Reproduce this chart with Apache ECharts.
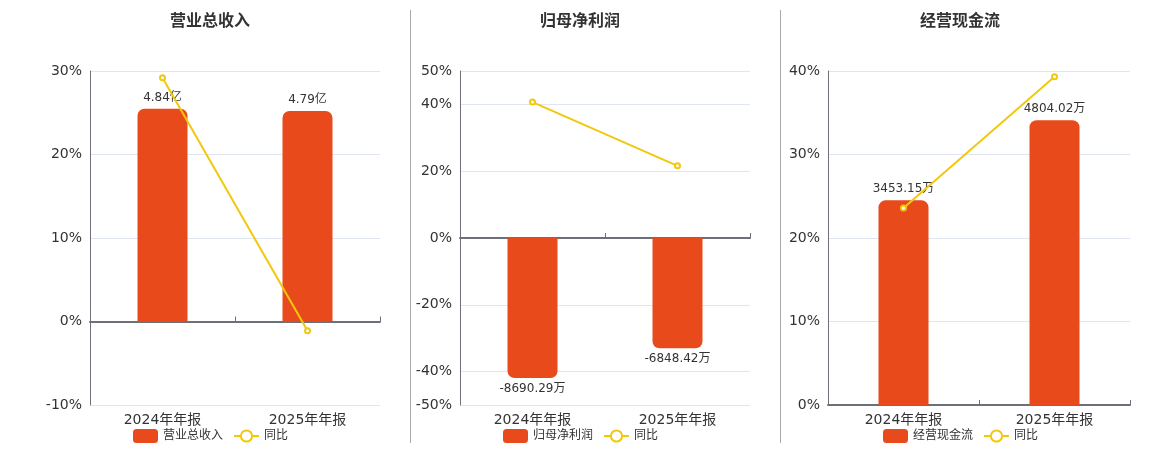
<!DOCTYPE html>
<html>
<head>
<meta charset="utf-8">
<script src="https://cdn.jsdelivr.net/npm/echarts@6/dist/echarts.min.js"></script>
<style>
  html, body { margin: 0; padding: 0; background: #fff; }
  #main { width: 1160px; height: 450px; }
</style>
</head>
<body>
<div id="main"></div>
<script>
// 数据
var categories = ['2024年年报', '2025年年报'];
var titles = ['营业总收入', '归母净利润', '经营现金流'];
var units = ['亿', '万', '万'];
var revenue = [4.84, 4.79];          // 亿
var netProfit = [-8690.29, -6848.42]; // 万
var cashFlow = [3453.15, 4804.02];    // 万
var revenueYoy = [29.2, -1.1];
var netProfitYoy = [40.7, 21.6];
var cashFlowYoy = [23.6, 39.3];
// 左轴范围（百分比）
var pctMin = [-10, -50, 0];
var pctMax = [30, 50, 40];
// 柱子隐藏轴：每 1% 对应多少数值
var perPct = [0.19, 207.4, 140.9];

var barValues = [revenue, netProfit, cashFlow];
var yoyValues = [revenueYoy, netProfitYoy, cashFlowYoy];

var FONT = '"DejaVu Sans", "Noto Sans CJK SC", sans-serif';
var BAR_COLOR = '#E84A1B';
var LINE_COLOR = '#F2C80C';

var grids = [
    { left: 90, top: 71, width: 290, height: 334 },
    { left: 460, top: 71, width: 290, height: 334 },
    { left: 828, top: 71, width: 302, height: 334 }
];
var titleLeft = [170, 540, 920];
var legendLeft = [133, 503, 883];

var option = {
    animation: false,
    textStyle: { fontFamily: FONT },
    title: [], legend: [], grid: grids,
    xAxis: [], yAxis: [], series: [],
    graphic: [
        { type: 'line', shape: { x1: 410.5, y1: 10, x2: 410.5, y2: 443 }, style: { stroke: '#aaa', lineWidth: 1 } },
        { type: 'line', shape: { x1: 780.5, y1: 10, x2: 780.5, y2: 443 }, style: { stroke: '#aaa', lineWidth: 1 } }
    ]
};

for (var i = 0; i < 3; i++) {
    var unit = units[i];
    var negative = barValues[i][0] < 0;

    option.title.push({
        text: titles[i], left: titleLeft[i], top: 14, padding: 0,
        textStyle: { fontSize: 16, fontWeight: 'bold', color: '#333', fontFamily: FONT }
    });
    option.legend.push({
        data: [titles[i], '同比'], left: legendLeft[i], top: 424, padding: [5, 0],
        itemWidth: 25, itemHeight: 14, itemGap: 10,
        textStyle: { fontSize: 12, color: '#333', fontFamily: FONT }
    });
    // 坐标轴标签（底部）
    option.xAxis.push({
        type: 'category', gridIndex: i, data: categories,
        axisLine: { show: false, onZero: false },
        axisTick: { show: false },
        axisLabel: { fontSize: 14, color: '#333', margin: 8, fontFamily: FONT }
    });
    // 零线
    option.xAxis.push({
        type: 'category', gridIndex: i, data: categories,
        axisLine: { show: true, onZero: true, onZeroAxisIndex: i * 2, lineStyle: { color: '#6E7079', width: 2 } },
        axisTick: { show: true, lineStyle: { color: '#6E7079' } },
        axisLabel: { show: false }
    });
    option.yAxis.push({
        type: 'value', gridIndex: i, min: pctMin[i], max: pctMax[i],
        axisLine: { show: true, lineStyle: { color: '#6E7079' } },
        axisTick: { show: false },
        splitLine: { lineStyle: { color: '#E0E6F1' } },
        axisLabel: { fontSize: 14, color: '#333', fontFamily: FONT, formatter: '{value}%' }
    });
    option.yAxis.push({
        type: 'value', gridIndex: i, show: false,
        min: pctMin[i] * perPct[i], max: pctMax[i] * perPct[i],
        splitLine: { show: false }
    });

    option.series.push({
        name: titles[i], type: 'bar', xAxisIndex: i * 2, yAxisIndex: i * 2 + 1,
        data: barValues[i], barWidth: 50,
        itemStyle: {
            color: BAR_COLOR,
            borderRadius: negative ? [0, 0, 7, 7] : [7, 7, 0, 0]
        },
        label: {
            show: true, position: negative ? 'bottom' : 'top',
            color: '#333', fontSize: 12, fontFamily: FONT,
            formatter: (function (u) { return function (p) { return p.value + u; }; })(unit)
        }
    });
    option.series.push({
        name: '同比', type: 'line', xAxisIndex: i * 2, yAxisIndex: i * 2,
        data: yoyValues[i], symbol: 'emptyCircle', symbolSize: 5,
        lineStyle: { color: LINE_COLOR, width: 2 },
        itemStyle: { color: LINE_COLOR },
        z: 5
    });
}

var chart = echarts.init(document.getElementById('main'));
chart.setOption(option);
</script>
</body>
</html>
